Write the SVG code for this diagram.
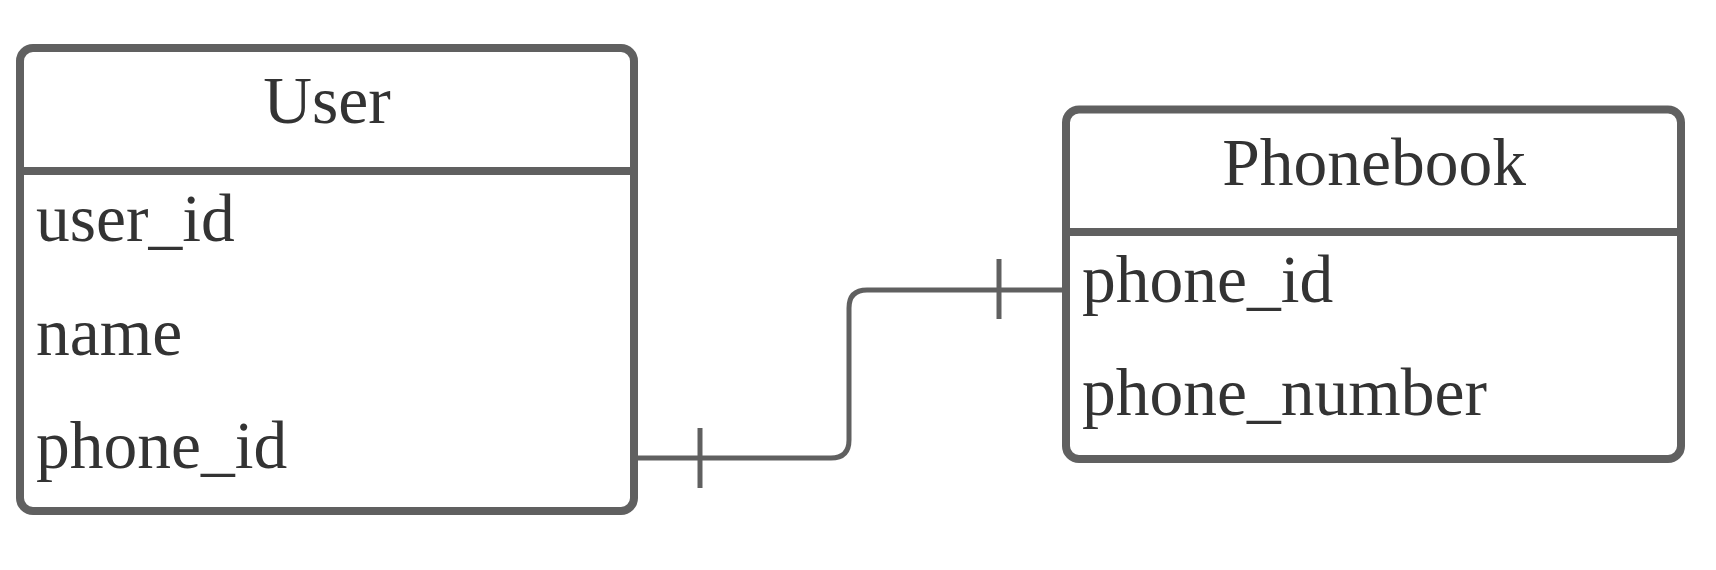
<svg xmlns="http://www.w3.org/2000/svg" width="1716" height="570" viewBox="0 0 1716 570">
<style>
.box{fill:#ffffff;stroke:#606060;stroke-width:8}
.div{stroke:#606060;stroke-width:8}
.t{font-family:"Liberation Serif","Times New Roman",serif;font-size:67.5px;fill:#333333}
.c{text-anchor:middle}
.conn{fill:none;stroke:#606060;stroke-width:5}
</style>
<rect width="1716" height="570" fill="#ffffff"/>
<g id="connectors">
<path class="conn" d="M634,458 H831 Q849,458 849,440 V308 Q849,290 867,290 H1066"/>
<line class="conn" x1="700" y1="428" x2="700" y2="488"/>
<line class="conn" x1="999" y1="259" x2="999" y2="319"/>
</g>
<g id="user">
<rect class="box" x="20" y="48" width="614" height="463" rx="13"/>
<line class="div" x1="20" y1="171" x2="634" y2="171"/>
<text class="t c" x="327" y="123">User</text>
<text class="t" x="36" y="241">user_id</text>
<text class="t" x="36" y="355">name</text>
<text class="t" x="36" y="468">phone_id</text>
</g>
<g id="phonebook">
<rect class="box" x="1066" y="109.5" width="615" height="349.5" rx="13"/>
<line class="div" x1="1066" y1="232" x2="1681" y2="232"/>
<text class="t c" x="1374" y="185">Phonebook</text>
<text class="t" x="1082" y="302">phone_id</text>
<text class="t" x="1082" y="415">phone_number</text>
</g>
</svg>
